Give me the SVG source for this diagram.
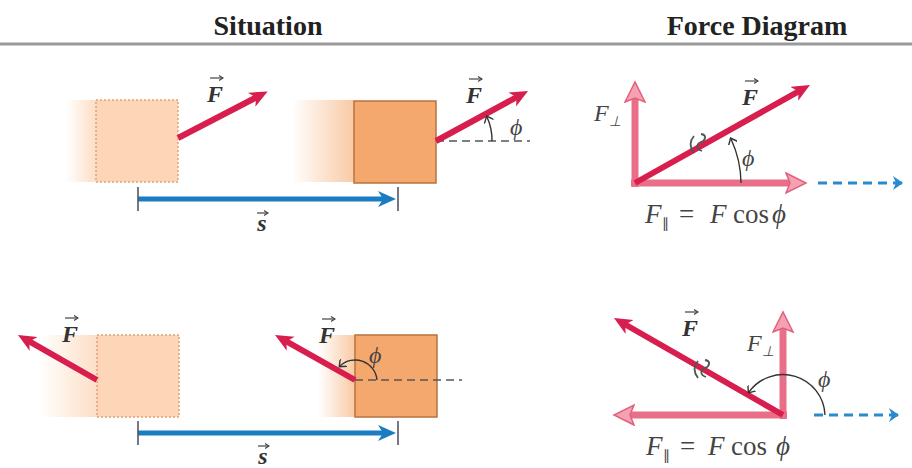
<svg xmlns="http://www.w3.org/2000/svg" width="912" height="468" viewBox="0 0 912 468">
<defs>
<style>
.hdr{font-family:"Liberation Serif",serif;font-weight:bold;font-size:28px;fill:#222;text-anchor:middle}
.vec{font-family:"Liberation Serif",serif;font-weight:bold;font-style:italic;font-size:24px;fill:#333;text-anchor:middle}
.lbl{font-family:"Liberation Serif",serif;font-style:italic;font-size:24px;fill:#444}
.eq{font-family:"Liberation Serif",serif;font-size:27px;fill:#444}
.it{font-style:italic}
.sub{font-size:14px}
.red{stroke:#d81e4e;stroke-width:6;fill:none;marker-end:url(#rh)}
.pink{stroke:#e96f88;stroke-width:7;fill:none;marker-end:url(#ph)}
.blue{stroke:#1b7cc1;stroke-width:5;fill:none;marker-end:url(#bh)}
.bdash{stroke:#2a8ad0;stroke-width:3;fill:none;stroke-dasharray:9,6}
.tick{stroke:#556;stroke-width:1.6}
.kdash{stroke:#555;stroke-width:1.4;stroke-dasharray:8,5;fill:none}
.arc{stroke:#333;stroke-width:1.4;fill:none;marker-end:url(#ah)}
.sq{stroke:#4a5a50;stroke-width:1.8;fill:none}
.ov{stroke:#444;stroke-width:1.2;fill:none;marker-end:url(#oh)}
.boxS{fill:#f5a86e;stroke:#b8733f;stroke-width:1.5}
.boxF{fill:#fcd6b6;stroke:#e3a176;stroke-width:1.5;stroke-dasharray:2,2}
</style>
<marker id="rh" markerUnits="userSpaceOnUse" markerWidth="20" markerHeight="18" refX="6" refY="8" orient="auto"><path d="M0,0 L18,8 L0,16 L5,8 z" fill="#d81e4e"/></marker>
<marker id="ph" markerUnits="userSpaceOnUse" markerWidth="24" markerHeight="24" refX="6" refY="11" orient="auto"><path d="M1,1 L21,11 L1,21 L5,11 z" fill="#f4a2b2" stroke="#e2607e" stroke-width="1.5"/></marker>
<marker id="bh" markerUnits="userSpaceOnUse" markerWidth="20" markerHeight="18" refX="5" refY="8" orient="auto"><path d="M0,0 L18,8 L0,16 L5,8 z" fill="#1b7cc1"/></marker>
<marker id="ah" markerUnits="userSpaceOnUse" markerWidth="10" markerHeight="10" refX="5" refY="5" orient="auto"><path d="M0,0 L6,5 L0,10" fill="none" stroke="#333" stroke-width="1.4"/></marker>
<marker id="oh" markerUnits="userSpaceOnUse" markerWidth="6" markerHeight="6" refX="4" refY="3" orient="auto"><path d="M0,0.5 L4,3 L0,5.5" fill="none" stroke="#444" stroke-width="1.1"/></marker>
<marker id="bch" markerUnits="userSpaceOnUse" markerWidth="14" markerHeight="16" refX="10" refY="8" orient="auto"><path d="M1,1 L11,8 L1,15 L4,8 z" fill="#2a8ad0"/></marker>
<linearGradient id="fadeL" x1="0" y1="0" x2="1" y2="0"><stop offset="0" stop-color="#fcd6b6" stop-opacity="0"/><stop offset="1" stop-color="#fcd6b6" stop-opacity="0.8"/></linearGradient>
<linearGradient id="fadeS" x1="0" y1="0" x2="1" y2="0"><stop offset="0" stop-color="#f8c49a" stop-opacity="0"/><stop offset="1" stop-color="#f8c49a" stop-opacity="0.9"/></linearGradient>
</defs>
<rect width="912" height="468" fill="#fff"/>

<g id="header">
<text class="hdr" x="268" y="35">Situation</text>
<text class="hdr" x="757" y="35">Force Diagram</text>
<line x1="0" y1="44" x2="912" y2="44" stroke="#9a9a9a" stroke-width="3"/>
</g>

<g id="top-start-block">
<rect x="66" y="100" width="30" height="82" fill="url(#fadeL)"/>
<rect class="boxF" x="96" y="100" width="82" height="82"/>
</g>
<g id="top-end-block">
<rect x="292" y="100" width="62" height="82" fill="url(#fadeS)"/>
<rect class="boxS" x="354" y="101" width="82" height="82"/>
</g>
<g id="bot-start-block">
<rect x="40" y="335" width="57" height="82" fill="url(#fadeL)"/>
<rect class="boxF" x="97" y="335" width="82" height="82"/>
</g>
<g id="bot-end-block">
<rect x="318" y="335" width="37" height="82" fill="url(#fadeS)"/>
<rect class="boxS" x="355" y="335" width="82" height="82"/>
</g>

<g id="connectors">
<!-- top situation -->
<line class="red" x1="178" y1="138" x2="257" y2="97"/>
<line class="kdash" x1="436" y1="141" x2="530" y2="141"/>
<line class="red" x1="436" y1="141" x2="517.5" y2="96.7"/>
<path class="arc" d="M492,141 A56,56 0 0 0 487,117"/>
<line class="blue" x1="138" y1="199" x2="383" y2="199"/>
<line class="tick" x1="138" y1="187" x2="138" y2="211"/>
<line class="tick" x1="398" y1="187" x2="398" y2="211"/>
<!-- bottom situation -->
<line class="red" x1="97" y1="380" x2="28.4" y2="340.9"/>
<line class="kdash" x1="355" y1="380" x2="462" y2="380"/>
<line class="red" x1="355" y1="380" x2="285.5" y2="340.9"/>
<path class="arc" d="M377,380 A22,22 0 0 0 340,366"/>
<line class="blue" x1="138" y1="433" x2="383" y2="433"/>
<line class="tick" x1="138" y1="421" x2="138" y2="445"/>
<line class="tick" x1="398" y1="421" x2="398" y2="445"/>
<!-- top force diagram -->
<line class="pink" x1="635" y1="187" x2="635" y2="97"/>
<line class="pink" x1="631" y1="183" x2="791" y2="183"/>
<line class="red" x1="635" y1="183" x2="799.5" y2="90.9"/>
<path class="arc" d="M741,183 A106,106 0 0 0 731,139"/>
<path class="sq" d="M694,136 q-7,8 0,17 M701,134 c6,1 5,6 0,8 c-5,2 -5,7 1,9"/>
<line class="bdash" x1="818" y1="183" x2="902" y2="183" marker-end="url(#bch)"/>
<!-- bottom force diagram -->
<line class="pink" x1="783" y1="419" x2="783" y2="327"/>
<line class="pink" x1="787" y1="415" x2="629" y2="415"/>
<line class="red" x1="783" y1="415" x2="624.4" y2="324"/>
<path class="arc" d="M825,415 A42,42 0 0 0 749,392"/>
<path class="sq" d="M698,361 q-7,8 0,17 M705,360 c6,1 5,6 0,8 c-5,2 -5,7 1,9"/>
<line class="bdash" x1="814" y1="415" x2="898" y2="415" marker-end="url(#bch)"/>
</g>

<g id="labels">
<text class="vec" x="215" y="102">F</text><line class="ov" x1="210" y1="78" x2="223" y2="78"/>
<text class="vec" x="474" y="103">F</text><line class="ov" x1="469" y1="79" x2="482" y2="79"/>
<text class="lbl" x="510" y="135">ϕ</text>
<text class="vec" x="262" y="231">s</text><line class="ov" x1="257" y1="213" x2="268" y2="213"/>

<text class="vec" x="70" y="342">F</text><line class="ov" x1="65" y1="318" x2="78" y2="318"/>
<text class="vec" x="327" y="343">F</text><line class="ov" x1="322" y1="319" x2="335" y2="319"/>
<text class="lbl" x="369" y="363">ϕ</text>
<text class="vec" x="263" y="464">s</text><line class="ov" x1="258" y1="446" x2="269" y2="446"/>

<text class="vec" x="750" y="105">F</text><line class="ov" x1="745" y1="81" x2="758" y2="81"/>
<text class="lbl" x="594" y="121">F<tspan class="sub" dy="5">⊥</tspan></text>
<text class="lbl" x="742" y="166">ϕ</text>
<text class="eq"><tspan class="it" x="645" y="223">F</tspan><tspan class="sub" dy="5">∥</tspan><tspan x="679" y="223">=</tspan><tspan class="it" x="710">F</tspan><tspan x="733">cos</tspan><tspan class="it" x="772">ϕ</tspan></text>

<text class="vec" x="690" y="336">F</text><line class="ov" x1="685" y1="312" x2="698" y2="312"/>
<text class="lbl" x="747" y="351">F<tspan class="sub" dy="5">⊥</tspan></text>
<text class="lbl" x="818" y="387">ϕ</text>
<text class="eq"><tspan class="it" x="646" y="455">F</tspan><tspan class="sub" dy="5">∥</tspan><tspan x="680" y="455">=</tspan><tspan class="it" x="708">F</tspan><tspan x="731">cos</tspan><tspan class="it" x="776">ϕ</tspan></text>
</g>
</svg>
